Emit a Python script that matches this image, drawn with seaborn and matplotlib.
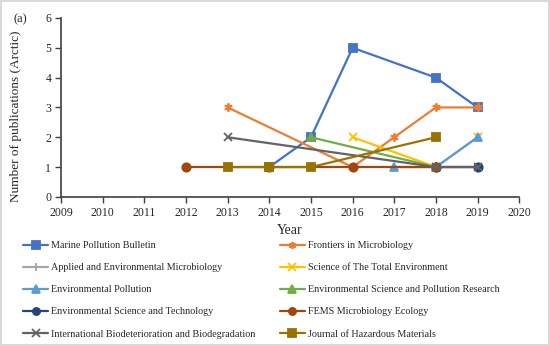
import pandas as pd
import matplotlib.pyplot as plt
import seaborn as sns

# publications per journal and year (Arctic)
journals = [
    "Marine Pollution Bulletin",
    "Frontiers in Microbiology",
    "Applied and Environmental Microbiology",
    "Science of The Total Environment",
    "Environmental Pollution",
    "Environmental Science and Pollution Research",
    "Environmental Science and Technology",
    "FEMS Microbiology Ecology",
    "International Biodeterioration and Biodegradation",
    "Journal of Hazardous Materials",
]
years = {
    "Marine Pollution Bulletin": [2014, 2015, 2016, 2018, 2019],
    "Frontiers in Microbiology": [2013, 2016, 2017, 2018, 2019],
    "Applied and Environmental Microbiology": [2018, 2019],
    "Science of The Total Environment": [2016, 2018, 2019],
    "Environmental Pollution": [2017, 2018, 2019],
    "Environmental Science and Pollution Research": [2015, 2018],
    "Environmental Science and Technology": [2018, 2019],
    "FEMS Microbiology Ecology": [2012, 2014, 2016, 2018],
    "International Biodeterioration and Biodegradation": [2013, 2018, 2019],
    "Journal of Hazardous Materials": [2013, 2014, 2015, 2018],
}
counts = {
    "Marine Pollution Bulletin": [1, 2, 5, 4, 3],
    "Frontiers in Microbiology": [3, 1, 2, 3, 3],
    "Applied and Environmental Microbiology": [1, 1],
    "Science of The Total Environment": [2, 1, 2],
    "Environmental Pollution": [1, 1, 2],
    "Environmental Science and Pollution Research": [2, 1],
    "Environmental Science and Technology": [1, 1],
    "FEMS Microbiology Ecology": [1, 1, 1, 1],
    "International Biodeterioration and Biodegradation": [2, 1, 1],
    "Journal of Hazardous Materials": [1, 1, 1, 2],
}

colors = ["#4472C4", "#ED7D31", "#A5A5A5", "#FFC000", "#5B9BD5",
          "#70AD47", "#264478", "#9E480E", "#636363", "#997300"]
markers = ["s", (6, 2, 0), "+", "x", "^", "^", "o", "o", "x", "s"]

sns.set_style("ticks")
plt.rcParams["font.family"] = ["Liberation Serif", "DejaVu Serif"]

fig = plt.figure(figsize=(5.5, 3.46), dpi=100)
fig.patch.set_edgecolor("#d9d9d9")
fig.patch.set_linewidth(1.5)
ax = fig.add_axes([0.111, 0.431, 0.833, 0.517])

for j, col, mk in zip(journals, colors, markers):
    d = pd.DataFrame({"Year": years[j], "Count": counts[j]})
    sns.lineplot(data=d, x="Year", y="Count", color=col, marker=mk,
                 linewidth=1.6, markersize=6, markeredgewidth=1.3,
                 markeredgecolor=col, label=j, ax=ax)

ax.set_xlim(2009, 2020)
ax.set_ylim(0, 6)
ax.set_xticks(range(2009, 2021))
ax.set_yticks(range(0, 7))
ax.tick_params(labelsize=8.5, length=4, width=1, color="#404040", pad=3)
for s in ["left", "bottom"]:
    ax.spines[s].set_color("#404040")
    ax.spines[s].set_linewidth(1.2)
sns.despine(ax=ax)
ax.set_xlabel("Year", fontsize=10, labelpad=4)
ax.set_ylabel("Number of publications (Arctic)", fontsize=9.5)
ax.yaxis.set_label_coords(-0.085, 0.45)
fig.text(0.025, 0.945, "(a)", fontsize=9, ha="left", va="center")

handles, labels = ax.get_legend_handles_labels()
ax.get_legend().remove()
order = [0, 2, 4, 6, 8, 1, 3, 5, 7, 9]
fig.legend([handles[i] for i in order], [labels[i] for i in order],
           ncol=2, loc="upper left", bbox_to_anchor=(0.042, 0.303),
           frameon=False, fontsize=7.3, handlelength=2.5, handletextpad=0.25,
           columnspacing=2.4, labelspacing=1.28, borderaxespad=0,
           borderpad=0, markerscale=0.85)

fig.savefig("out.png", dpi=100)
